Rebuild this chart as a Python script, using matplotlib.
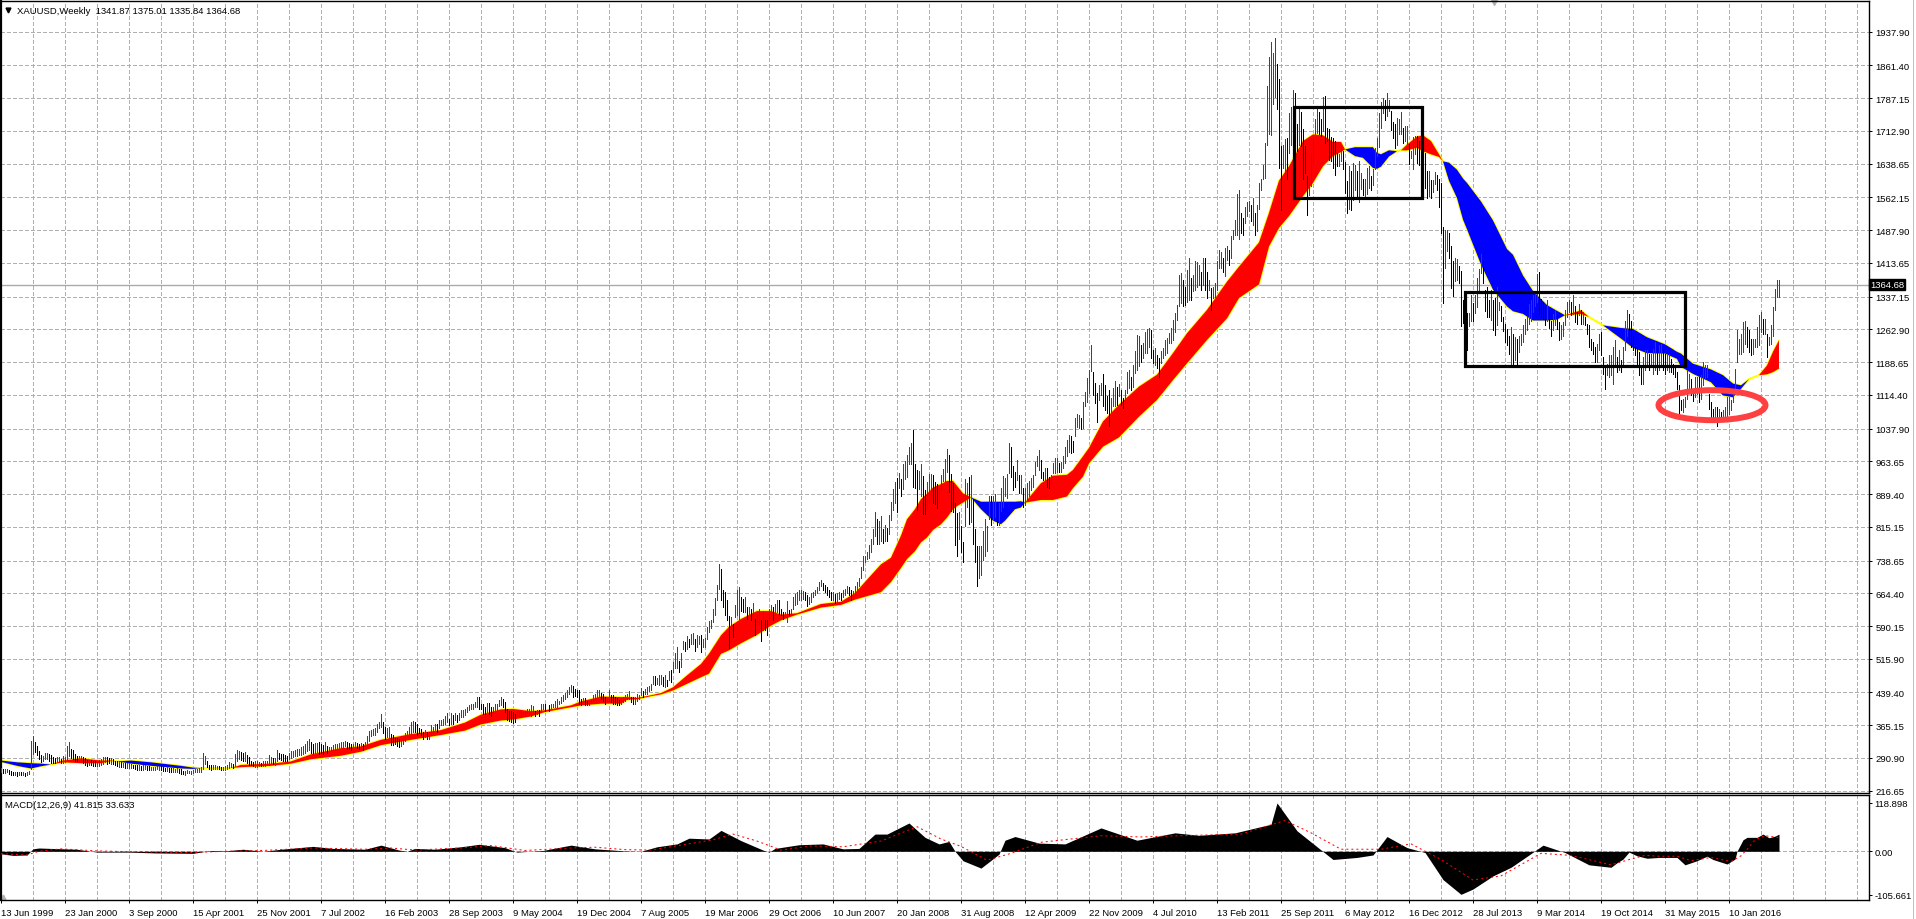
import numpy as np
import matplotlib
matplotlib.use("Agg")
import matplotlib.pyplot as plt
from matplotlib.lines import Line2D
from matplotlib.patches import Rectangle, Ellipse

plt.rcParams['font.family'] = ['Liberation Sans', 'DejaVu Sans']

# weekly high / low of XAUUSD, 16 bars per row (one grid cell)
bar_high = [
    268,266,265,266,264,262,260,259,258,259,258,258,257,258,262,330,
    341,328,318,306,298,296,302,303,300,298,292,290,292,292,288,296,
    293,318,326,312,308,300,296,296,295,294,291,287,287,286,285,283,
    284,286,289,294,292,293,290,291,288,285,283,283,281,280,279,280,
    279,277,276,275,275,274,272,274,276,273,272,271,270,271,272,273,
    272,270,269,270,268,267,267,266,268,266,265,262,262,263,262,262,
    264,265,266,268,270,303,295,283,276,274,274,275,273,272,271,270,
    272,276,282,280,278,300,310,307,304,303,305,298,292,285,282,283,
    283,282,280,283,283,285,298,292,290,290,309,302,300,299,298,296,
    303,306,306,308,312,312,316,318,322,330,334,326,322,324,325,327,
    322,320,328,318,316,316,320,322,322,325,328,328,330,326,324,322,
    322,326,324,322,324,322,328,340,352,354,356,358,368,372,390,372,
    362,358,360,345,342,337,337,333,337,340,347,352,360,372,374,372,
    369,358,356,350,354,350,350,365,362,369,369,376,376,380,387,392,
    380,392,388,393,388,392,400,400,403,407,410,413,414,418,430,430,
    414,414,406,416,416,406,406,414,414,423,430,425,417,402,398,398,
    395,391,395,398,398,395,398,402,402,410,408,398,400,400,414,414,
    414,406,410,414,414,421,425,421,429,433,438,444,451,457,455,448,
    444,445,425,427,427,421,421,425,433,436,446,446,438,436,429,430,
    444,433,433,429,427,423,427,430,433,436,443,429,429,429,435,433,
    450,443,447,451,455,459,476,476,473,480,478,474,478,467,489,491,
    508,529,543,510,530,557,553,568,560,572,574,561,570,568,570,561,
    563,589,601,603,629,654,684,730,720,672,667,648,612,610,595,637,
    671,678,656,652,656,634,633,629,642,606,614,629,603,625,603,603,
    629,637,633,640,648,648,629,622,622,646,627,629,656,663,667,671,
    672,670,668,660,655,664,668,672,678,690,695,688,684,678,672,668,
    668,662,664,668,665,672,675,680,678,672,670,680,690,700,725,749,
    749,757,773,787,810,849,832,829,840,810,819,813,841,872,900,916,
    925,938,923,957,965,978,996,1005,1034,957,944,942,957,931,899,916,
    936,936,932,916,912,904,932,947,970,991,978,934,914,870,846,848,
    817,780,923,914,927,932,878,811,772,772,772,806,832,817,885,885,
    884,890,869,869,903,931,925,935,1005,997,952,940,967,933,933,903,
    903,914,918,925,933,963,975,990,967,940,948,948,929,933,959,971,
    971,959,963,975,997,1012,1024,1021,1009,1062,1071,1069,1062,1099,1122,1152,
    1171,1228,1167,1141,1118,1137,1141,1161,1137,1111,1126,1107,1129,1145,1133,1139,
    1126,1107,1126,1167,1171,1156,1182,1213,1250,1247,1228,1232,1258,1263,1266,1262,
    1216,1220,1205,1198,1213,1220,1239,1243,1254,1266,1285,1300,1318,1387,1390,1375,
    1360,1398,1424,1379,1387,1417,1415,1409,1394,1424,1424,1394,1375,1356,1360,1368,
    1417,1443,1439,1424,1447,1451,1443,1475,1489,1512,1571,1578,1527,1516,1540,1551,
    1555,1544,1560,1527,1546,1595,1603,1635,1685,1816,1880,1914,1889,1923,1864,1830,
    1678,1682,1694,1696,1754,1768,1805,1798,1728,1762,1756,1717,1678,1610,1603,1663,
    1694,1740,1763,1755,1740,1790,1793,1720,1718,1700,1697,1690,1663,1660,1682,1667,
    1643,1599,1633,1622,1641,1635,1622,1644,1618,1603,1603,1629,1633,1610,1626,1675,
    1697,1754,1778,1788,1784,1798,1782,1758,1733,1728,1743,1740,1755,1720,1724,1725,
    1684,1668,1700,1701,1701,1690,1684,1684,1663,1622,1622,1601,1601,1620,1614,1604,
    1595,1496,1489,1489,1481,1451,1417,1424,1422,1406,1395,1330,1310,1300,1300,1341,
    1322,1341,1379,1400,1434,1417,1353,1359,1330,1353,1330,1334,1359,1326,1315,1292,
    1276,1264,1249,1268,1253,1246,1242,1249,1253,1272,1287,1291,1321,1329,1340,1351,
    1389,1393,1332,1325,1314,1329,1306,1283,1298,1306,1298,1280,1272,1280,1306,1325,
    1329,1325,1340,1317,1302,1321,1306,1302,1291,1276,1272,1242,1234,1223,1230,1253,
    1257,1200,1181,1185,1204,1204,1223,1238,1200,1215,1193,1223,1283,1306,1298,1283,
    1249,1223,1223,1211,1181,1200,1215,1215,1208,1208,1219,1234,1215,1227,1230,1215,
    1208,1204,1208,1196,1185,1177,1166,1136,1102,1106,1109,1170,1162,1151,1125,1155,
    1155,1155,1159,1189,1181,1181,1117,1098,1083,1087,1087,1083,1075,1079,1087,1109,
    1109,1102,1128,1174,1261,1242,1253,1280,1283,1268,1261,1242,1242,1242,1268,1295,
    1302,1287,1287,1253,1246,1272,1314,1355,1374,1375.01,
]
bar_low = [
    258,256,256,258,255,253,252,252,251,253,252,252,251,252,254,265,
    300,304,298,288,282,284,288,288,285,279,279,279,281,281,279,279,
    282,288,295,291,289,285,283,282,283,279,276,273,275,274,272,272,
    272,273,276,278,281,278,279,278,277,274,272,271,270,270,269,268,
    268,269,267,266,264,264,264,264,266,264,263,263,263,264,265,264,
    263,262,261,261,259,258,258,258,258,256,255,254,253,256,256,255,
    256,258,258,259,258,266,277,270,266,264,266,265,266,265,264,264,
    264,265,269,270,268,272,284,288,287,285,283,280,276,275,272,271,
    271,272,272,273,272,275,274,280,277,276,284,288,287,285,284,283,
    288,290,292,295,296,298,298,300,302,306,308,302,302,303,304,300,
    302,300,302,302,304,306,308,310,310,312,314,316,318,312,312,310,
    310,314,314,312,310,310,314,318,330,340,342,344,350,358,360,347,
    335,338,337,320,320,322,318,316,318,323,330,338,338,348,350,350,
    342,347,342,334,338,335,335,342,346,355,350,358,365,366,369,373,
    365,369,369,376,372,376,384,384,388,396,399,402,402,407,407,402,
    402,391,391,396,391,387,391,395,398,408,410,406,395,376,374,372,
    370,372,387,383,383,387,387,392,391,387,391,387,391,387,398,402,
    398,406,398,402,406,406,406,414,415,421,425,429,436,440,429,432,
    429,414,410,414,410,410,412,417,421,425,430,429,425,421,414,420,
    421,417,414,414,412,410,414,417,421,425,425,417,414,414,421,425,
    433,429,436,436,442,445,458,456,459,457,459,455,452,453,467,463,
    486,494,496,486,498,538,534,538,542,550,550,533,542,550,531,542,
    542,561,576,586,599,614,650,674,648,633,614,603,541,584,565,610,
    614,606,625,622,622,606,618,603,606,569,595,595,556,580,580,569,
    603,614,603,614,622,618,614,606,610,599,614,616,629,637,640,648,
    650,652,650,636,640,645,655,660,664,672,680,672,668,660,655,650,
    648,642,645,652,650,655,660,664,660,650,652,660,668,682,698,718,
    736,742,745,757,776,795,776,776,783,779,783,783,798,830,854,870,
    848,904,885,900,923,927,957,957,906,904,854,900,885,844,845,863,
    870,881,870,866,857,870,900,919,919,940,894,851,848,774,749,787,
    757,735,817,859,821,826,776,735,681,700,705,740,749,761,832,820,
    831,837,820,820,850,861,884,880,937,929,899,906,922,891,891,861,
    865,876,884,899,906,933,952,944,925,922,918,906,903,914,937,937,
    940,940,940,948,959,975,984,982,984,1020,1041,1039,1037,1039,1088,1099,
    1118,1169,1114,1095,1052,1103,1114,1088,1080,1073,1043,1073,1088,1088,1092,1111,
    1092,1084,1095,1118,1129,1126,1133,1164,1171,1179,1190,1198,1209,1209,1224,1198,
    1186,1182,1175,1156,1186,1198,1205,1209,1232,1232,1239,1258,1285,1315,1322,1315,
    1318,1326,1330,1330,1349,1353,1360,1364,1353,1364,1353,1334,1353,1307,1334,1337,
    1353,1402,1402,1394,1383,1421,1409,1424,1467,1476,1478,1467,1482,1478,1505,1520,
    1531,1508,1499,1478,1486,1535,1580,1603,1607,1682,1705,1703,1775,1790,1762,1628,
    1533,1629,1616,1604,1663,1680,1667,1667,1667,1682,1678,1603,1618,1522,1567,1588,
    1641,1705,1709,1705,1701,1712,1686,1690,1647,1644,1629,1613,1633,1633,1644,1626,
    1573,1527,1535,1533,1557,1580,1561,1551,1582,1567,1565,1569,1584,1580,1590,1626,
    1656,1676,1720,1753,1737,1746,1758,1715,1697,1675,1682,1705,1705,1686,1690,1684,
    1637,1652,1627,1660,1641,1635,1648,1663,1584,1561,1565,1561,1574,1592,1580,1540,
    1482,1322,1402,1440,1424,1356,1338,1373,1375,1368,1270,1277,1260,1215,1270,1283,
    1283,1300,1313,1351,1390,1368,1304,1292,1292,1285,1262,1251,1273,1307,1281,1260,
    1234,1227,1208,1185,1185,1193,1179,1211,1227,1234,1253,1262,1276,1283,1302,1317,
    1325,1298,1291,1287,1272,1283,1267,1249,1261,1272,1264,1238,1242,1249,1272,1291,
    1302,1295,1298,1280,1276,1295,1276,1276,1272,1253,1223,1215,1208,1189,1189,1215,
    1204,1162,1128,1159,1155,1159,1140,1177,1166,1170,1166,1185,1215,1249,1234,1223,
    1215,1204,1177,1159,1140,1140,1170,1177,1170,1177,1162,1170,1162,1170,1177,1170,
    1162,1170,1166,1166,1162,1155,1128,1068,1079,1075,1087,1106,1125,1113,1100,1109,
    1117,1098,1106,1136,1151,1155,1083,1060,1060,1060,1044,1060,1060,1064,1060,1060,
    1072,1079,1098,1128,1189,1208,1208,1211,1230,1223,1211,1204,1208,1223,1223,1227,
    1257,1253,1253,1200,1227,1230,1249,1306,1336,1335.84,
]

# moving average ribbon, read at these bars
band_bar = [0,8,15,20,25,31,40,50,55,58,65,75,90,96,100,115,120,135,145,155,170,180,190,205,220,232,
            240,250,256,265,272,285,290,300,310,313,318,325,330,336,343,350,354,360,364,370,378,385,390,398,
            410,420,427,440,445,450,453,457,460,463,466,470,473,476,478,481,485,490,496,500,502,507,510,512,
            520,526,533,536,541,544,551,559,569,578,586,593,603,613,619,629,634,639,644,651,656,661,666,670,
            672,677,681,686,688,690,694,698,700,703,708,711,715,719,721,724,728,731,733,740,746,753,756,761,
            766,773,778,782,790,794,801,810,816,823,832,838,840,846,855,861,866,870,874,879,883,886,889]
band_fast = [282,273,267,272,276,285,290,285,285,283,278,273,267,266,268,268,275,278,283,299,313,317,332,345,354,371,
             389,401,402,397,399,410,419,430,429,429,427,433,438,451,478,504,527,569,588,606,624,624,616,619,
             640,645,665,730,745,795,832,855,878,890,904,912,919,919,908,891,882,855,829,821,829,855,859,870,
             914,931,933,944,975,994,1054,1092,1133,1160,1209,1254,1307,1371,1405,1460,1527,1600,1633,1690,1705,1703,1688,1688,
             1671,1656,1652,1629,1627,1632,1655,1667,1669,1682,1700,1703,1690,1660,1644,1600,1561,1512,1490,1410,1353,1315,1304,1298,
             1283,1283,1285,1295,1306,1291,1272,1242,1221,1209,1208,1196,1178,1162,1143,1113,1109,1128,1150,1159,1181,1212,1238]
band_slow = [285,281,279,278,276,281,279,279,284,283,285,281,273,269,268,268,270,273,278,288,296,305,320,332,343,353,
             367,376,378,385,395,406,410,414,414,423,424,431,435,444,459,474,482,527,535,551,570,591,603,616,
             632,638,650,667,690,722,742,760,780,791,808,821,836,855,862,870,882,872,872,872,872,872,873,870,
             876,876,884,903,929,959,997,1018,1065,1103,1148,1186,1239,1288,1334,1365,1451,1493,1520,1565,1595,1633,1656,1665,
             1671,1676,1676,1676,1663,1660,1669,1667,1669,1669,1675,1667,1660,1654,1644,1641,1625,1605,1595,1553,1510,1445,1432,1385,
             1350,1318,1305,1295,1298,1291,1272,1266,1264,1245,1229,1212,1208,1185,1172,1159,1140,1136,1150,1159,1161,1166,1174]

# macd histogram and signal line
macd_bar = [0,6,13,16,19,25,38,48,64,77,96,105,112,121,131,140,156,166,182,190,199,203,207,217,230,239,252,258,271,285,297,312,320,
            328,338,344,354,360,370,381,384,387,399,411,421,429,437,443,454,462,469,474,477,481,490,499,502,507,519,532,550,568,587,
            599,617,635,638,648,657,666,678,686,693,703,712,721,730,736,746,755,764,771,782,794,805,808,811,814,818,823,829,838,842,
            848,853,856,863,867,868,871,873,878,881,884,887,889]
macd_val = [-6,-10,-9,6,8,7,5,-2,-2,-4,-5,2,1,5,0,5,12,7,5,15,3,0,7,5,11,17,9,-2,2,15,6,1,0,
            11,18,32,30,51,26,3,-2,7,16,18,6,7,42,42,69,34,18,24,0,-23,-41,-7,27,36,20,18,57,27,45,
            39,45,66,118,50,15,-20,-15,-9,36,9,-3,-69,-105,-92,-60,-39,-9,15,-3,-33,-39,-28,-19,-2,-11,-17,-15,-15,-33,
            -23,-12,-20,-31,-19,0,28,34,34,42,33,37,41.8]
signal_bar = [0,13,19,30,48,64,96,112,131,156,182,195,207,230,245,262,285,297,312,325,340,356,366,378,390,405,421,440,458,470,480,493,505,
              520,550,570,590,620,642,655,670,690,705,720,736,750,770,785,805,815,822,829,838,845,855,865,870,874,877,882,889]
signal_val = [-6,-9,0,6,1,-1,-3,0,2,8,5,8,3,8,14,2,8,10,4,3,15,28,42,25,3,13,11,25,60,30,12,-22,-5,
              22,38,35,38,42,75,45,5,5,18,-20,-70,-60,-5,-10,-33,-19,-10,-12,-12,-23,-15,-25,-11,10,28,38,33.6]

price_ticks = [1937.90,1861.40,1787.15,1712.90,1638.65,1562.15,1487.90,1413.65,1337.15,1262.90,1188.65,1114.40,
               1037.90,963.65,889.40,815.15,738.65,664.40,590.15,515.90,439.40,365.15,290.90,216.65]
macd_ticks = [118.898, 0, -105.661]
date_labels = ["13 Jun 1999","23 Jan 2000","3 Sep 2000","15 Apr 2001","25 Nov 2001","7 Jul 2002","16 Feb 2003",
               "28 Sep 2003","9 May 2004","19 Dec 2004","7 Aug 2005","19 Mar 2006","29 Oct 2006","10 Jun 2007",
               "20 Jan 2008","31 Aug 2008","12 Apr 2009","22 Nov 2009","4 Jul 2010","13 Feb 2011","25 Sep 2011",
               "6 May 2012","16 Dec 2012","28 Jul 2013","9 Mar 2014","19 Oct 2014","31 May 2015","10 Jan 2016"]
last_price = 1364.68

W, H = 1916, 920
PX = 0.72  # one pixel in points at dpi 100
GRID = '#b0b0b0'
fs = 6.8

fig = plt.figure(figsize=(W / 100, H / 100), dpi=100, facecolor='white')
ax = fig.add_axes([1 / W, 1 - 794 / H, 1868 / W, 792.5 / H])
ax2 = fig.add_axes([1 / W, 1 - 901 / H, 1868 / W, 105 / H])

for a in (ax, ax2):
    a.set_xlim(0, 934)
    a.set_xticks(np.arange(len(date_labels)) * 32)
    a.set_xticks(np.arange(16, 930, 16), minor=True)
    a.grid(True, which='both', axis='x', color=GRID, lw=PX, ls=(0, (3, 2.5)), antialiased=False)
    a.tick_params(which='minor', length=0)
    a.set_axisbelow(True)
    a.yaxis.tick_right()
    for s in a.spines.values():
        s.set_linewidth(1.0)
    a.spines['left'].set_linewidth(1.6)

# price pane
ax.set_ylim(211.4, 2008.8)
ax.set_yticks(price_ticks)
ax.set_yticklabels(["%.2f" % p for p in price_ticks], fontsize=fs)
ax.tick_params(axis='y', length=2.2, width=PX, pad=2.5)
ax.tick_params(axis='x', which='major', length=0, labelbottom=False)
ax.grid(True, axis='y', color=GRID, lw=PX, ls=(0, (3, 2.5)), antialiased=False)

ax.axhline(last_price, color='#aaaaaa', lw=1.0, zorder=1.5)

bx = np.array(band_bar)
bf = np.array(band_fast, dtype=float)
bs = np.array(band_slow, dtype=float)
# yellow under the fill, so only its outer edge shows
ax.plot(bx, bf, color='#ffff00', lw=1.8 * PX, zorder=1.8)
ax.plot(bx, bs, color='#ffff00', lw=1.8 * PX, zorder=1.8)
ax.fill_between(bx, bf, bs, where=bf >= bs, interpolate=True, color='#ff0000', lw=0, zorder=2)
ax.fill_between(bx, bf, bs, where=bf <= bs, interpolate=True, color='#0000ff', lw=0, zorder=2)

hi = np.array(bar_high, dtype=float)
lo = np.array(bar_low, dtype=float)
mid = (hi + lo) / 2
up = np.r_[True, mid[1:] >= mid[:-1] * 0.998]
ax.vlines(np.arange(len(hi)), lo, hi, colors=np.where(up, '#e00000', '#000000'), lw=PX, zorder=3, antialiased=False)

# hand drawn marks on the chart
ax.add_patch(Rectangle((646.5, 1561), 63.8, 206, fill=False, ec='black', lw=2.3, joinstyle='miter', zorder=4))
ax.add_patch(Rectangle((732, 1180), 110, 168, fill=False, ec='black', lw=2.3, joinstyle='miter', zorder=4))
ax.add_patch(Ellipse((855.5, 1091), 53.5, 68, fill=False, ec='#ff4040', lw=4.3, zorder=4))

ax.text(1.0005, last_price, "%.2f" % last_price, transform=ax.get_yaxis_transform(), color='white', fontsize=fs,
        va='center', ha='left', clip_on=False, zorder=6,
        bbox=dict(fc='black', ec='black', pad=1.0))

ax.plot(0.0037, 0.9875, marker='v', ms=3.5, color='black', transform=ax.transAxes, clip_on=False)
ax.text(16 / 1868, 0.9875, "XAUUSD,Weekly  1341.87 1375.01 1335.84 1364.68", transform=ax.transAxes,
        fontsize=fs, va='center', ha='left')
ax.plot(0.7995, 0.9985, marker='v', ms=5, color='#b0b0b0', transform=ax.transAxes, clip_on=False)

# macd pane
ax2.set_ylim(-118.8, 137.3)
ax2.set_yticks(macd_ticks)
ax2.set_yticklabels(["118.898", "0.00", "-105.661"], fontsize=fs)
ax2.tick_params(axis='y', length=2.2, width=PX, pad=1.5)
ax2.axhline(0, color=GRID, lw=PX, ls=(0, (3, 2.5)), antialiased=False, zorder=1)
ax2.fill_between(macd_bar, 0, macd_val, color='black', lw=0, zorder=2)
ax2.plot(signal_bar, signal_val, color='#ff0000', lw=PX, ls=(0, (2, 3)), zorder=3)
ax2.set_xticklabels(date_labels, fontsize=fs, ha='left')
ax2.tick_params(axis='x', which='major', length=2.5, width=PX, pad=3)
ax2.text(4 / 1868, 0.905, "MACD(12,26,9) 41.815 33.633", transform=ax2.transAxes, fontsize=fs, va='center', ha='left')
ax2.plot(0.001, 0.03, marker='^', ms=3.5, color='#b0b0b0', transform=ax2.transAxes, clip_on=False)

fig.add_artist(Line2D([1912.5 / W, 1912.5 / W], [0, 1], color='#c0c0c0', lw=PX))

fig.savefig('out.png', dpi=100)
